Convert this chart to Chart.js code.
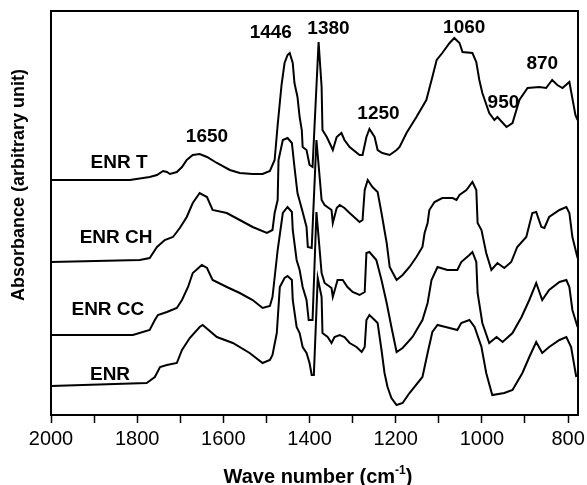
<!DOCTYPE html>
<html>
<head>
<meta charset="utf-8">
<script src="https://cdn.jsdelivr.net/npm/chart.js@4.4.1/dist/chart.umd.min.js"></script>
<style>
  html, body { margin: 0; padding: 0; background: #fff; }
</style>
</head>
<body>
<canvas id="ftir" width="587" height="485"></canvas>
<script>
// x ticks (wave number, cm-1), labels only every 200
const tickValues = [800, 900, 1000, 1100, 1200, 1300, 1400, 1500, 1600, 1700, 1800, 1900, 2000];

// spectra: [wave number, absorbance (arbitrary, offset)]
const enrT = [
  [2000,235],[1817,235],[1771,238],[1754,240],[1740,244],[1731,243],[1724,241],[1708,243],[1696,248],
  [1685,255],[1671,260],[1655,261],[1638,258],[1615,252],[1585,245],[1562,242],[1532,241],[1509,241],
  [1492,244],[1481,255],[1474,290],[1465,330],[1458,352],[1451,360],[1446,362],[1439,352],[1435,332],
  [1428,318],[1423,298],[1418,285],[1416,268],[1407,265],[1400,250],[1393,248],[1379,373],[1372,328],
  [1370,285],[1360,278],[1349,268],[1346,265],[1337,278],[1326,282],[1319,275],[1307,268],[1284,260],
  [1277,260],[1268,278],[1261,286],[1249,278],[1242,265],[1231,262],[1214,260],[1198,265],[1191,268],
  [1175,282],[1152,298],[1129,315],[1115,338],[1105,355],[1092,362],[1075,372],[1064,377],[1052,372],
  [1045,363],[1022,362],[1013,353],[1006,335],[999,322],[983,302],[971,295],[964,298],[943,288],
  [929,292],[913,315],[894,327],[867,328],[851,327],[837,335],[825,330],[813,327],[797,333],[783,300],[778,295]
];
const enrCH = [
  [2000,153],[1794,155],[1771,157],[1754,168],[1736,175],[1717,178],[1701,187],[1685,198],[1671,212],
  [1655,222],[1638,218],[1625,205],[1592,202],[1562,195],[1532,188],[1499,182],[1486,185],[1481,202],
  [1474,215],[1472,255],[1462,275],[1451,277],[1441,272],[1435,248],[1428,222],[1416,203],[1407,188],
  [1404,168],[1395,167],[1384,275],[1372,215],[1365,210],[1349,205],[1346,192],[1337,207],[1330,210],
  [1319,207],[1307,202],[1284,193],[1277,195],[1272,225],[1265,235],[1254,228],[1242,223],[1233,202],
  [1221,172],[1214,148],[1198,135],[1184,140],[1168,148],[1152,158],[1138,168],[1133,182],[1126,192],
  [1122,205],[1110,213],[1092,217],[1068,217],[1059,215],[1052,220],[1036,225],[1022,233],[1013,225],
  [1010,192],[1001,185],[990,162],[978,145],[964,152],[948,147],[932,153],[918,168],[897,178],[883,202],
  [874,203],[862,188],[855,187],[844,198],[820,205],[804,208],[797,202],[790,178],[778,157]
];
const enrCC = [
  [2000,80],[1810,80],[1771,85],[1759,95],[1752,100],[1731,103],[1708,107],[1696,115],[1682,128],
  [1671,142],[1650,150],[1638,147],[1625,135],[1592,128],[1562,122],[1532,115],[1509,107],[1492,109],
  [1486,118],[1474,165],[1462,202],[1451,208],[1441,203],[1439,185],[1430,155],[1423,145],[1416,128],
  [1407,115],[1402,95],[1393,95],[1384,203],[1372,142],[1365,132],[1349,127],[1346,118],[1335,135],
  [1323,135],[1312,128],[1300,123],[1284,120],[1272,123],[1268,162],[1261,163],[1245,155],[1233,135],
  [1221,112],[1210,88],[1198,63],[1184,67],[1161,78],[1138,95],[1126,112],[1117,135],[1103,148],
  [1080,145],[1057,145],[1048,153],[1029,160],[1022,163],[1013,153],[1010,122],[999,92],[983,72],
  [966,78],[952,73],[929,82],[908,98],[890,115],[874,132],[860,115],[844,125],[820,133],[804,135],
  [797,128],[790,105],[778,88]
];
const enr = [
  [2000,29],[1778,32],[1759,38],[1747,48],[1731,50],[1708,52],[1696,65],[1678,77],[1655,88],[1648,90],
  [1615,78],[1578,72],[1539,62],[1509,52],[1492,55],[1486,60],[1476,82],[1469,128],[1458,137],[1451,139],
  [1441,135],[1439,115],[1430,88],[1423,82],[1416,68],[1407,62],[1400,52],[1395,40],[1390,40],[1381,137],
  [1372,118],[1370,82],[1358,78],[1349,72],[1342,78],[1330,80],[1319,78],[1307,72],[1291,68],[1279,63],
  [1272,68],[1268,95],[1261,100],[1249,95],[1242,92],[1233,65],[1226,42],[1219,28],[1210,17],[1198,10],
  [1184,12],[1168,22],[1138,38],[1126,62],[1115,83],[1103,90],[1075,87],[1057,85],[1048,92],[1029,95],
  [1017,88],[1001,68],[990,42],[976,20],[948,22],[929,25],[906,42],[890,58],[874,73],[860,62],[844,68],
  [820,75],[804,78],[793,68],[781,38]
];

// band labels and sample names, anchored in data units
const peakLabels = ['1650', '1446', '1380', '1250', '1060', '950', '870'];
const peakWave   = [1638, 1490, 1356, 1240, 1041, 950, 860];
const peakAbs    = [278, 382, 386, 301, 387, 312, 351];
const sampleLabels = ['ENR T', 'ENR CH', 'ENR CC', 'ENR'];
const sampleWave   = [1842, 1849, 1868, 1863];
const sampleAbs    = [252, 177, 105, 40];

const FONT = '"Liberation Sans", Arial, Helvetica, sans-serif';

const toXY = pts => pts.map(p => ({ x: p[0], y: p[1] }));

const lineStyle = {
  borderColor: '#000',
  borderWidth: 2,
  pointRadius: 0,
  tension: 0,
  fill: false
};

const decorations = {
  id: 'decorations',
  afterDraw(chart) {
    const { ctx, chartArea: a, scales: { x, y } } = chart;
    ctx.save();
    ctx.strokeStyle = '#000';
    ctx.lineWidth = 2;
    ctx.strokeRect(a.left, a.top, a.right - a.left, a.bottom - a.top);

    ctx.fillStyle = '#000';
    ctx.textAlign = 'center';
    ctx.textBaseline = 'middle';
    ctx.font = 'bold 19px ' + FONT;
    peakLabels.forEach((t, i) => {
      ctx.fillText(t, x.getPixelForValue(peakWave[i]), y.getPixelForValue(peakAbs[i]));
    });
    sampleLabels.forEach((t, i) => {
      ctx.fillText(t, x.getPixelForValue(sampleWave[i]), y.getPixelForValue(sampleAbs[i]));
    });

    // y title
    ctx.save();
    ctx.translate(19, 185);
    ctx.rotate(-Math.PI / 2);
    ctx.font = 'bold 18px ' + FONT;
    ctx.fillText('Absorbance (arbitrary unit)', 0, 0);
    ctx.restore();

    // x title with superscript -1
    ctx.textAlign = 'left';
    ctx.textBaseline = 'alphabetic';
    const big = 'bold 20px ' + FONT, small = 'bold 12px ' + FONT;
    ctx.font = big;
    const w1 = ctx.measureText('Wave number (cm').width;
    const w3 = ctx.measureText(')').width;
    ctx.font = small;
    const w2 = ctx.measureText('-1').width;
    let tx = 318 - (w1 + w2 + w3) / 2;
    const base = 483;
    ctx.font = big;
    ctx.fillText('Wave number (cm', tx, base);
    tx += w1;
    ctx.font = small;
    ctx.fillText('-1', tx, base - 9);
    tx += w2;
    ctx.font = big;
    ctx.fillText(')', tx, base);
    ctx.restore();
  }
};

new Chart(document.getElementById('ftir'), {
  type: 'line',
  data: {
    datasets: [
      { label: 'ENR T', data: toXY(enrT), ...lineStyle },
      { label: 'ENR CH', data: toXY(enrCH), ...lineStyle },
      { label: 'ENR CC', data: toXY(enrCC), ...lineStyle },
      { label: 'ENR', data: toXY(enr), ...lineStyle }
    ]
  },
  options: {
    responsive: false,
    animation: false,
    layout: { padding: { top: 11, right: 9, left: 0, bottom: 0 } },
    plugins: {
      legend: { display: false },
      tooltip: { enabled: false }
    },
    scales: {
      x: {
        type: 'linear',
        reverse: true,
        min: 777,
        max: 2000,
        afterBuildTicks: scale => {
          scale.ticks = tickValues.map(v => ({ value: v }));
        },
        afterFit: scale => { scale.height = 70; },
        ticks: {
          autoSkip: false,
          maxRotation: 0,
          padding: 4,
          color: '#000',
          font: { family: FONT, size: 20 },
          callback: v => (v % 200 === 0 ? String(v) : '')
        },
        grid: {
          display: true,
          drawOnChartArea: false,
          drawTicks: true,
          tickLength: 8,
          tickWidth: 1.5,
          tickColor: '#000'
        },
        border: { display: false }
      },
      y: {
        min: 0,
        max: 404,
        afterFit: scale => { scale.width = 51; },
        ticks: { display: false },
        grid: { display: false },
        border: { display: false }
      }
    }
  },
  plugins: [decorations]
});
</script>
</body>
</html>
